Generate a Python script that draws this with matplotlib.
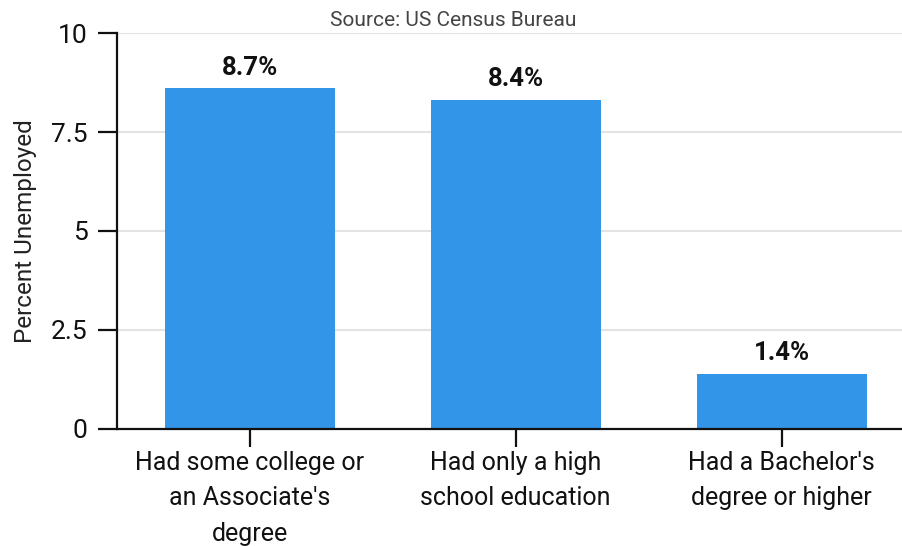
import matplotlib
matplotlib.use("Agg")
import matplotlib.pyplot as plt

categories = ["Had some college or\nan Associate's\ndegree",
              "Had only a high\nschool education",
              "Had a Bachelor's\ndegree or higher"]
values = [8.62, 8.32, 1.39]
value_labels = ["8.7%", "8.4%", "1.4%"]
yticks = [0, 2.5, 5, 7.5, 10]
ytick_labels = ["0", "2.5", "5", "7.5", "10"]

plt.rcParams['font.family'] = ['Roboto', 'DejaVu Sans']

fig = plt.figure(figsize=(9.02, 5.46), dpi=100)
ax = fig.add_axes([117/902, 1-428.7/546, 1-117/902, (428.7-33.3)/546])

x = list(range(len(categories)))
ax.bar(x, values, width=0.64, color="#3395e8", zorder=2)
for xi, v, lab in zip(x, values, value_labels):
    ax.annotate(lab, (xi, v), xytext=(0, 6), textcoords="offset points",
                ha="center", va="bottom", fontsize=18.5, fontweight="bold", color="#111111")

ax.set_xlim(-0.5, 2.453)
ax.set_ylim(0, 10)
ax.set_yticks(yticks)
ax.set_yticklabels(ytick_labels)
ax.set_xticks(x)
ax.set_xticklabels(categories, linespacing=1.6)
ax.yaxis.grid(True, color="#e3e3e3", linewidth=1.5, zorder=0)
ax.set_axisbelow(True)
for s in ["top", "right"]:
    ax.spines[s].set_visible(False)
for s in ["left", "bottom"]:
    ax.spines[s].set_linewidth(1.6)
    ax.spines[s].set_color("#111111")
ax.tick_params(axis="y", length=14, width=1.6, labelsize=19, pad=7, colors="#111111")
ax.tick_params(axis="x", length=13, width=1.6, labelsize=18, pad=3, colors="#111111")
ax.set_ylabel("Percent Unemployed", fontsize=17.5, color="#222222", labelpad=10)
fig.text(453/902, 1-20/546, "Source: US Census Bureau", ha="center", va="center",
         fontsize=15, color="#444444")

fig.savefig("out.png", dpi=100)
